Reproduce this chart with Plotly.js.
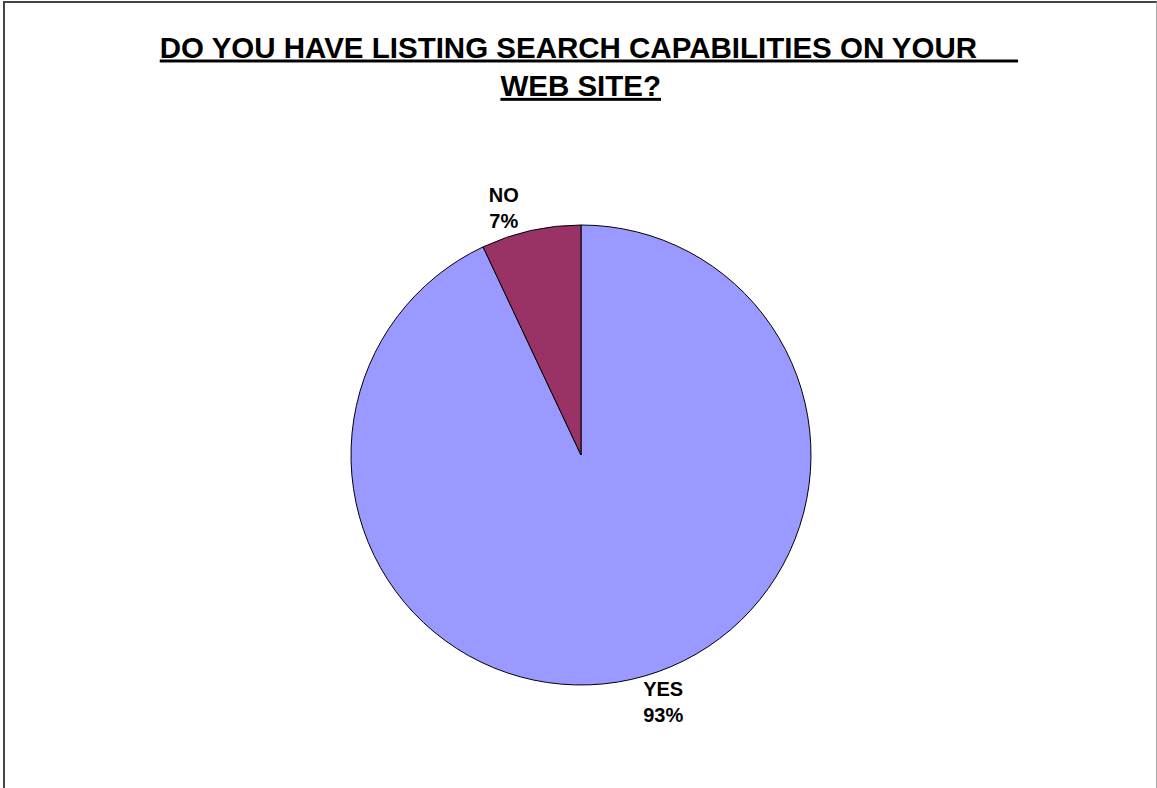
<!DOCTYPE html>
<html>
<head>
<meta charset="utf-8">
<script src="https://cdn.plot.ly/plotly-3.0.1.min.js"></script>
<style>
  html, body { margin: 0; padding: 0; background: #fff; }
  #wrap { position: relative; width: 1157px; height: 788px; overflow: hidden; }
  #frame { position: absolute; left: 3px; top: 1px; width: 1151px; height: 800px;
           border-left: 2px solid #444; border-top: 2px solid #444; border-right: 1px solid #aaa; pointer-events: none; }
  #chart { position: absolute; left: 0; top: 0; width: 1157px; height: 788px; }
</style>
</head>
<body>
<div id="wrap">
  <div id="chart"></div>
  <div id="frame"></div>
</div>
<script>
const categories = ["YES", "NO"];
const values = [93, 7];
const sliceColors = ["#9999FF", "#993366"];
const titleLine1 = "DO YOU HAVE LISTING SEARCH CAPABILITIES ON YOUR\u00a0\u00a0\u00a0\u00a0\u00a0";
const titleLine2 = "WEB SITE?";

const trace = {
  type: "pie",
  labels: categories,
  values: values,
  sort: false,
  direction: "clockwise",
  rotation: 0,
  marker: { colors: sliceColors, line: { color: "#000", width: 1 } },
  textposition: "outside",
  texttemplate: "%{label}<br>%{percent}",
  textfont: { family: "Liberation Sans, Arial, sans-serif", size: 20, color: "#000", weight: "bold" },
  hoverinfo: "label+percent",
  showlegend: false,
  automargin: false
};

const layout = {
  width: 1157,
  height: 788,
  paper_bgcolor: "#fff",
  plot_bgcolor: "#fff",
  margin: { l: 351, r: 346, t: 225, b: 103 },
  title: {
    text: "<b><u>" + titleLine1 + "</u><br><u>" + titleLine2 + "</u>\u00a0\u00a0</b>",
    font: { family: "Liberation Sans, Arial, sans-serif", size: 29.5, color: "#000" },
    x: 0.509, xanchor: "center",
    y: 0.927, yanchor: "top",
    xref: "container", yref: "container"
  },
  showlegend: false
};

Plotly.newPlot("chart", [trace], layout, { displayModeBar: false, staticPlot: true });
</script>
</body>
</html>
